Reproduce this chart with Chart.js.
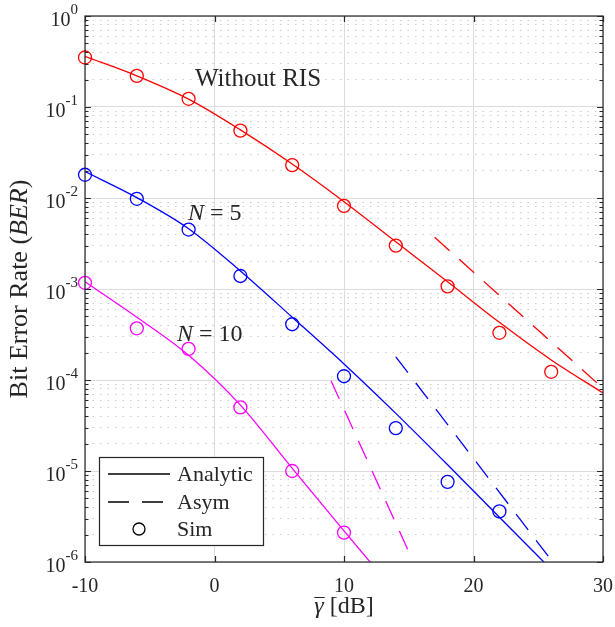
<!DOCTYPE html>
<html>
<head>
<meta charset="utf-8">
<script src="https://cdn.jsdelivr.net/npm/chart.js@4.4.1/dist/chart.umd.min.js"></script>
<style>
  html, body { margin: 0; padding: 0; background: #fff; }
  #wrap { width: 615px; height: 627px; }
</style>
</head>
<body>
<div id="wrap"><canvas id="berChart" width="615" height="627"></canvas></div>
<script>
// BER vs average SNR, with and without RIS (N = 5, N = 10)
var snrSim = [-10, -6, -2, 2, 6, 10, 14, 18, 22, 26];
var simNoRis = [0.35, 0.22, 0.123, 0.055, 0.023, 0.0082, 0.0030, 0.00107, 3.3e-4, 1.23e-4];
var simN5 = [0.018, 0.0098, 0.0045, 0.00139, 4.1e-4, 1.1e-4, 2.96e-5, 7.6e-6, 3.6e-6];
var simN10 = [1.17e-3, 3.7e-4, 2.2e-4, 5.0e-5, 1.0e-5, 2.1e-6];

var snrAna = [-10, -6, -2, 2, 6, 10, 14, 18, 22, 26, 30];
var anaNoRis = [0.36, 0.22, 0.122, 0.056, 0.0236, 0.0091, 0.0033, 0.0012, 4.3e-4, 1.66e-4, 7.2e-5];
var anaN5 = [0.0195, 0.0101, 0.0046, 1.58e-3, 4.9e-4, 1.5e-4, 4.3e-5, 1.17e-5, 3.1e-6, 8.3e-7];
var anaN10 = [1.2e-3, 4.9e-4, 1.87e-4, 5.3e-5, 1.07e-5, 2.2e-6, 4.6e-7];

var asymNoRisX = [17, 30], asymNoRis = [3.7e-3, 8.1e-5];
var asymN5X = [14, 26], asymN5 = [1.8e-4, 1.05e-6];
var asymN10X = [9, 15], asymN10 = [9.8e-5, 1.3e-6];

var xTicks = [-10, 0, 10, 20, 30];
var yExps = [-6, -5, -4, -3, -2, -1, 0];

var RED = '#ff0000', BLUE = '#0000ff', MAG = '#ff00ff';
var INK = '#262626';
var SERIF = '"Liberation Serif", "DejaVu Serif", serif';

function pts(xs, ys) {
  return ys.map(function (y, i) { return { x: xs[i], y: y }; });
}

function isDecade(v) {
  var l = Math.log10(v);
  return Math.abs(l - Math.round(l)) < 1e-9;
}

function analytic(xs, ys, color) {
  return {
    data: pts(xs, ys), borderColor: color, borderWidth: 1.3, pointRadius: 0,
    cubicInterpolationMode: 'monotone', fill: false
  };
}
function asym(xs, ys, color) {
  return {
    data: pts(xs, ys), borderColor: color, borderWidth: 1.3, pointRadius: 0,
    borderDash: [20, 13], fill: false
  };
}
function sim(xs, ys, color) {
  return {
    data: pts(xs, ys), showLine: false, borderColor: color, pointStyle: 'circle',
    pointRadius: 6.5, pointBorderWidth: 1.3, pointBorderColor: color,
    pointBackgroundColor: 'rgba(0,0,0,0)', clip: false
  };
}

// all y grid/tick positions: 1..9 x 10^e
var yGrid = [];
for (var e = -6; e < 0; e++) {
  for (var m = 1; m <= 9; m++) {
    yGrid.push(Number((m * Math.pow(10, e)).toPrecision(3)));
  }
}
yGrid.push(1);

function richText(ctx, parts, x, y) {
  // parts: [text, font]; draws left to right from x
  parts.forEach(function (p) {
    ctx.font = p[1];
    ctx.fillText(p[0], x, y);
    x += ctx.measureText(p[0]).width;
  });
  return x;
}
function richWidth(ctx, parts) {
  var w = 0;
  parts.forEach(function (p) { ctx.font = p[1]; w += ctx.measureText(p[0]).width; });
  return w;
}

var decor = {
  id: 'decor',
  afterDraw: function (chart) {
    var ctx = chart.ctx;
    var ca = chart.chartArea;
    var xs = chart.scales.x, ys = chart.scales.y;
    ctx.save();

    // box and inward ticks
    ctx.strokeStyle = INK;
    ctx.lineWidth = 1.2;
    ctx.strokeRect(ca.left, ca.top, ca.right - ca.left, ca.bottom - ca.top);
    ctx.beginPath();
    xTicks.forEach(function (v) {
      var px = Math.round(xs.getPixelForValue(v)) + 0.5;
      ctx.moveTo(px, ca.bottom); ctx.lineTo(px, ca.bottom - 6);
      ctx.moveTo(px, ca.top); ctx.lineTo(px, ca.top + 6);
    });
    yGrid.forEach(function (v) {
      var py = Math.round(ys.getPixelForValue(v)) + 0.5;
      var len = isDecade(v) ? 6 : 3.5;
      ctx.moveTo(ca.left, py); ctx.lineTo(ca.left + len, py);
      ctx.moveTo(ca.right, py); ctx.lineTo(ca.right - len, py);
    });
    ctx.stroke();

    ctx.fillStyle = INK;
    // x tick labels
    ctx.font = '20px ' + SERIF;
    ctx.textAlign = 'center';
    ctx.textBaseline = 'alphabetic';
    xTicks.forEach(function (v) {
      ctx.fillText(String(v), xs.getPixelForValue(v), 592);
    });

    // y tick labels 10^e
    ctx.textAlign = 'left';
    yExps.forEach(function (ex) {
      var py = ys.getPixelForValue(Math.pow(10, ex));
      var base = '20px ' + SERIF, sup = '15px ' + SERIF;
      ctx.font = base;
      var wb = ctx.measureText('10').width;
      ctx.font = sup;
      var ws = ctx.measureText(String(ex)).width;
      var x0 = 78 - wb - ws;
      ctx.font = base;
      ctx.fillText('10', x0, py + 10);
      ctx.font = sup;
      ctx.fillText(String(ex), x0 + wb, py - 2);
    });

    // y axis title
    var it = 'italic 26px ' + SERIF, rm = '26px ' + SERIF;
    var yParts = [['Bit Error Rate (', rm], ['BER', it], [')', rm]];
    ctx.save();
    ctx.translate(27, (ca.top + ca.bottom) / 2);
    ctx.rotate(-Math.PI / 2);
    richText(ctx, yParts, -richWidth(ctx, yParts) / 2, 0);
    ctx.restore();

    // x axis title: gamma-bar [dB]
    var xParts = [['\u03b3', 'italic 24px ' + SERIF], [' [dB]', '24px ' + SERIF]];
    var xw = richWidth(ctx, xParts);
    var xl = (ca.left + ca.right) / 2 - xw / 2;
    richText(ctx, xParts, xl, 613);
    ctx.font = 'italic 24px ' + SERIF;
    var gw = ctx.measureText('\u03b3').width;
    ctx.lineWidth = 1;
    ctx.beginPath();
    ctx.moveTo(xl, 597.5); ctx.lineTo(xl + gw + 1, 597.5);
    ctx.stroke();

    // curve annotations
    ctx.font = '25px ' + SERIF;
    ctx.fillText('Without RIS', 195, 86);
    richText(ctx, [['N', 'italic 24px ' + SERIF], [' = 5', '24px ' + SERIF]], 188, 220);
    richText(ctx, [['N', 'italic 24px ' + SERIF], [' = 10', '24px ' + SERIF]], 177, 341);

    // legend
    var lx = 99.5, ly = 457.5, lw = 164, lh = 88;
    ctx.fillStyle = '#fff';
    ctx.fillRect(lx, ly, lw, lh);
    ctx.strokeStyle = INK;
    ctx.lineWidth = 1.2;
    ctx.strokeRect(lx, ly, lw, lh);
    ctx.strokeStyle = '#000';
    ctx.lineWidth = 1.3;
    ctx.beginPath();
    ctx.moveTo(108, 474); ctx.lineTo(170, 474);
    ctx.stroke();
    ctx.setLineDash([21, 13]);
    ctx.beginPath();
    ctx.moveTo(108, 502); ctx.lineTo(170, 502);
    ctx.stroke();
    ctx.setLineDash([]);
    ctx.beginPath();
    ctx.arc(139, 529, 6, 0, Math.PI * 2);
    ctx.stroke();
    ctx.fillStyle = INK;
    ctx.font = '22px ' + SERIF;
    ctx.fillText('Analytic', 177, 481);
    ctx.fillText('Asym', 177, 509);
    ctx.fillText('Sim', 177, 536);

    ctx.restore();
  }
};

new Chart(document.getElementById('berChart'), {
  type: 'line',
  data: {
    datasets: [
      analytic(snrAna, anaNoRis, RED),
      analytic(snrAna.slice(0, anaN5.length), anaN5, BLUE),
      analytic(snrAna.slice(0, anaN10.length), anaN10, MAG),
      asym(asymNoRisX, asymNoRis, RED),
      asym(asymN5X, asymN5, BLUE),
      asym(asymN10X, asymN10, MAG),
      sim(snrSim, simNoRis, RED),
      sim(snrSim.slice(0, simN5.length), simN5, BLUE),
      sim(snrSim.slice(0, simN10.length), simN10, MAG)
    ]
  },
  options: {
    responsive: false,
    animation: false,
    events: [],
    layout: { padding: { left: 85, right: 12, top: 16, bottom: 65 } },
    plugins: { legend: { display: false }, tooltip: { enabled: false } },
    scales: {
      x: {
        type: 'linear', min: -10, max: 30,
        afterBuildTicks: function (s) { s.ticks = xTicks.map(function (v) { return { value: v }; }); },
        ticks: { display: false },
        grid: { color: '#dcdcdc', lineWidth: 1, drawTicks: false },
        border: { display: false }
      },
      y: {
        type: 'logarithmic', min: 1e-6, max: 1,
        afterBuildTicks: function (s) { s.ticks = yGrid.map(function (v) { return { value: v }; }); },
        ticks: { display: false },
        grid: {
          drawTicks: false, lineWidth: 1,
          color: function (c) {
            return c.tick && !isDecade(c.tick.value) ? '#cccccc' : '#dcdcdc';
          }
        },
        border: {
          display: false,
          dash: function (c) {
            return c.tick && !isDecade(c.tick.value) ? [1.5, 6] : [];
          }
        }
      }
    }
  },
  plugins: [decor]
});
</script>
</body>
</html>
